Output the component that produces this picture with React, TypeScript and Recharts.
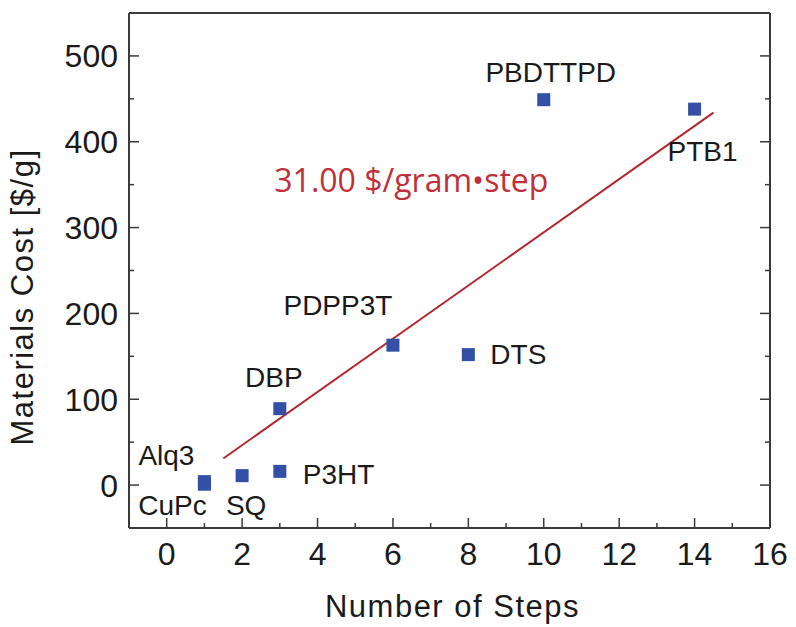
import React from "react";
import { ScatterChart, Scatter, XAxis, YAxis, ReferenceLine, ReferenceDot } from "recharts";

// materials and their synthesis cost vs. number of steps
const materials = ["Alq3", "CuPc", "SQ", "P3HT", "DBP", "PDPP3T", "DTS", "PBDTTPD", "PTB1"];
const steps = [1, 1, 2, 3, 3, 6, 8, 10, 14];
const costs = [4, 1, 11, 16, 89, 163, 152, 449, 438];

// axis ticks (minor + major) and the ones that carry a label
const xTicks = [0, 1, 2, 3, 4, 5, 6, 7, 8, 9, 10, 11, 12, 13, 14, 15, 16];
const xLabels = [0, 2, 4, 6, 8, 10, 12, 14, 16];
const yTicks = [0, 50, 100, 150, 200, 250, 300, 350, 400, 450, 500];
const yLabels = [0, 100, 200, 300, 400, 500];

// linear fit
const fitSlope = 31.0;
const fitIntercept = -15.5;
const fitFrom = 1.5;
const fitTo = 14.5;

const data = materials.map((name, i) => ({ name, steps: steps[i], cost: costs[i] }));
const fitValue = (x: number) => fitSlope * x + fitIntercept;

const AXIS = "#3a3a3a";
const FONT = "'Liberation Sans', Arial, sans-serif";
const MARKER = "#3350a6";
const FIT = "#b3262e";

// where each material name sits relative to its marker
const labelPlacement: Record<string, { dx: number; dy: number; anchor: "start" | "middle" }> = {
  Alq3: { dx: -38, dy: -17, anchor: "middle" },
  CuPc: { dx: -32, dy: 31, anchor: "middle" },
  SQ: { dx: 4, dy: 39, anchor: "middle" },
  P3HT: { dx: 23, dy: 13, anchor: "start" },
  DBP: { dx: -6, dy: -22, anchor: "middle" },
  PDPP3T: { dx: -55, dy: -30, anchor: "middle" },
  DTS: { dx: 22, dy: 9, anchor: "start" },
  PBDTTPD: { dx: 7, dy: -18, anchor: "middle" },
  PTB1: { dx: 8, dy: 52, anchor: "middle" },
};

const BottomTick = ({ x, y, payload }: any) => {
  const major = xLabels.includes(payload.value);
  return (
    <g>
      <line x1={x} x2={x} y1={y} y2={y - (major ? 10 : 5)} stroke={AXIS} strokeWidth={1.5} />
      {major && (
        <text x={x} y={y + 37} textAnchor="middle" fontSize={32} fontFamily={FONT} fill="#1a1a1a">
          {payload.value}
        </text>
      )}
    </g>
  );
};

const TopTick = ({ x, y, payload }: any) => {
  const major = xLabels.includes(payload.value);
  return <line x1={x} x2={x} y1={y} y2={y + (major ? 10 : 5)} stroke={AXIS} strokeWidth={1.5} />;
};

const LeftTick = ({ x, y, payload }: any) => {
  const major = yLabels.includes(payload.value);
  return (
    <g>
      <line x1={x} x2={x + (major ? 10 : 5)} y1={y} y2={y} stroke={AXIS} strokeWidth={1.5} />
      {major && (
        <text x={x - 11} y={y + 11.5} textAnchor="end" fontSize={32} fontFamily={FONT} fill="#1a1a1a">
          {payload.value}
        </text>
      )}
    </g>
  );
};

const RightTick = ({ x, y, payload }: any) => {
  const major = yLabels.includes(payload.value);
  return <line x1={x} x2={x - (major ? 10 : 5)} y1={y} y2={y} stroke={AXIS} strokeWidth={1.5} />;
};

const SquareMarker = ({ cx, cy, payload }: any) => {
  const place = labelPlacement[payload.name];
  return (
    <g>
      <rect x={cx - 6.5} y={cy - 6.5} width={13} height={13} fill={MARKER} />
      <text
        x={cx + place.dx}
        y={cy + place.dy}
        textAnchor={place.anchor}
        fontSize={28}
        fontFamily={FONT}
        fill="#1a1a1a"
      >
        {payload.name}
      </text>
    </g>
  );
};

export default function App() {
  return (
    <div style={{ position: "absolute", left: 0, top: 0, width: 796, height: 627, background: "#fff" }}>
      <ScatterChart width={796} height={627} margin={{ top: 0, right: 0, bottom: 0, left: 0 }}>
        <XAxis
          type="number"
          dataKey="steps"
          domain={[-1, 16]}
          ticks={xTicks}
          interval={0}
          allowDataOverflow
          height={99}
          tickSize={0}
          tickMargin={0}
          tick={BottomTick}
          axisLine={{ stroke: AXIS, strokeWidth: 2 }}
          label={{
            content: ({ viewBox }: any) => (
              <text
                x={viewBox.x + viewBox.width / 2 + 3}
                y={viewBox.y + 89}
                textAnchor="middle"
                fontSize={31}
                letterSpacing={1.5}
                fontFamily={FONT}
                fill="#1a1a1a"
              >
                Number of Steps
              </text>
            ),
          }}
        />
        <XAxis
          xAxisId="top"
          orientation="top"
          type="number"
          domain={[-1, 16]}
          ticks={xTicks}
          interval={0}
          allowDataOverflow
          height={13}
          tickSize={0}
          tickMargin={0}
          tick={TopTick}
          axisLine={{ stroke: AXIS, strokeWidth: 2 }}
        />
        <YAxis
          type="number"
          dataKey="cost"
          domain={[-50, 550]}
          ticks={yTicks}
          interval={0}
          allowDataOverflow
          width={129}
          tickSize={0}
          tickMargin={0}
          tick={LeftTick}
          axisLine={{ stroke: AXIS, strokeWidth: 2 }}
          label={{
            content: () => (
              <text
                x={33}
                y={297}
                transform="rotate(-90, 33, 297)"
                textAnchor="middle"
                fontSize={31}
                letterSpacing={1.5}
                fontFamily={FONT}
                fill="#1a1a1a"
              >
                Materials Cost [$/g]
              </text>
            ),
          }}
        />
        <YAxis
          yAxisId="right"
          orientation="right"
          type="number"
          domain={[-50, 550]}
          ticks={yTicks}
          interval={0}
          allowDataOverflow
          width={26}
          tickSize={0}
          tickMargin={0}
          tick={RightTick}
          axisLine={{ stroke: AXIS, strokeWidth: 2 }}
        />
        <ReferenceLine
          segment={[
            { x: fitFrom, y: fitValue(fitFrom) },
            { x: fitTo, y: fitValue(fitTo) },
          ]}
          stroke={FIT}
          strokeWidth={2}
        />
        <ReferenceDot
          x={2.88}
          y={340}
          r={1}
          fill="none"
          stroke="none"
          label={{
            content: ({ viewBox }: any) => (
              <text
                x={viewBox.x}
                y={viewBox.y}
                fontSize={32}
                fontFamily="'Open Sans', sans-serif"
                fill="#c0303a"
              >
                {`${fitSlope.toFixed(2)} $/gram•step`}
              </text>
            ),
          }}
        />
        <Scatter data={data} shape={SquareMarker} isAnimationActive={false} />
      </ScatterChart>
    </div>
  );
}
